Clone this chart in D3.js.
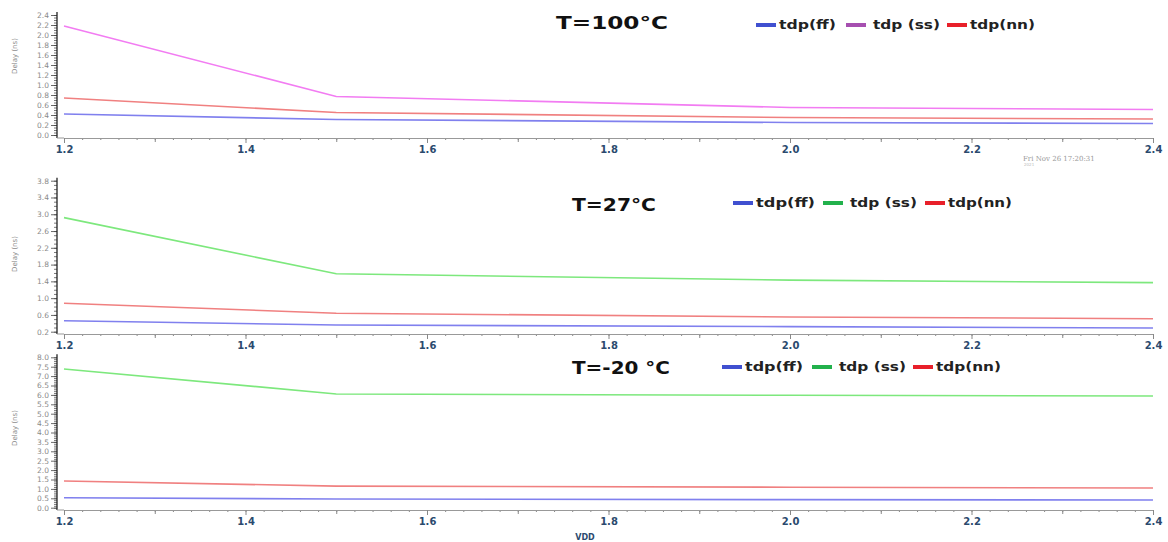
<!DOCTYPE html>
<html>
<head>
<meta charset="utf-8">
<script src="https://cdn.jsdelivr.net/npm/d3@7/dist/d3.min.js"></script>
<style>
  body { margin: 0; background: #fff; }
  svg { display: block; }
  .ylab text { font-family: 'DejaVu Sans', sans-serif; font-size: 7.5px; fill: #8a8a8a; }
  .xlab text { font-family: 'DejaVu Sans', sans-serif; font-weight: bold; font-size: 10px; fill: #2b4a6e; }
</style>
</head>
<body>
<div id="chart"></div>
<script>
/* globals d3 */

// supply voltage (x values)
const vdd = [1.2, 1.5, 2.0, 2.4]

// T = 100 C
const ff100 = [0.42, 0.31, 0.25, 0.23]
const ss100 = [2.18, 0.77, 0.55, 0.51]
const nn100 = [0.74, 0.45, 0.35, 0.32]

// T = 27 C
const ff27 = [0.46, 0.36, 0.32, 0.29]
const ss27 = [2.92, 1.58, 1.43, 1.37]
const nn27 = [0.88, 0.64, 0.55, 0.51]

// T = -20 C
const ffm20 = [0.53, 0.46, 0.43, 0.41]
const ssm20 = [7.38, 6.05, 5.98, 5.94]
const nnm20 = [1.42, 1.15, 1.09, 1.05]

const xTicks = [1.2, 1.4, 1.6, 1.8, 2.0, 2.2, 2.4]
const yTicks100 = [0, 0.2, 0.4, 0.6, 0.8, 1.0, 1.2, 1.4, 1.6, 1.8, 2.0, 2.2, 2.4]
const yTicks27 = [0.2, 0.6, 1.0, 1.4, 1.8, 2.2, 2.6, 3.0, 3.4, 3.8]
const yTicksM20 = [0, 0.5, 1.0, 1.5, 2.0, 2.5, 3.0, 3.5, 4.0, 4.5, 5.0, 5.5, 6.0, 6.5, 7.0, 7.5, 8.0]

const titles = ['T=100°C', 'T=27°C', 'T=-20 °C']
const seriesNames = ['tdp(ff)', 'tdp (ss)', 'tdp(nn)']

const W = 1168
const H = 542

let svg = d3.select('#chart').append('svg').attr('width', W).attr('height', H)

let x = d3.scaleLinear().domain([1.2, 2.4]).range([64, 1153])

let panels = [
  {
    ff: ff100, ss: ss100, nn: nn100, ticks: yTicks100, minor: 0.05, dom: [0, 2.4], rng: [135, 15],
    axisY: 138, ssColor: '#f27cf2', ssKey: '#a64fb0', title: titles[0], yTitle: 56,
    titleX: 556, titleY: 29, titleW: 112, legX: 756, legY: 25, legW: [57, 67, 65], legGap: [90, 101]
  },
  {
    ff: ff27, ss: ss27, nn: nn27, ticks: yTicks27, minor: 0.1, dom: [0.2, 3.8], rng: [331.7, 180.7],
    axisY: 334, ssColor: '#7de87d', ssKey: '#22b14c', title: titles[1], yTitle: 254,
    titleX: 572, titleY: 211, titleW: 84, legX: 733, legY: 203, legW: [59, 67, 64], legGap: [90, 102]
  },
  {
    ff: ffm20, ss: ssm20, nn: nnm20, ticks: yTicksM20, minor: 0.1, dom: [0, 8], rng: [507.7, 357.3],
    axisY: 510, ssColor: '#7de87d', ssKey: '#22b14c', title: titles[2], yTitle: 428,
    titleX: 572, titleY: 374, titleW: 98, legX: 722, legY: 367, legW: [58, 67, 65], legGap: [90, 101]
  }
]

panels.forEach(function (p) {
  let y = d3.scaleLinear().domain(p.dom).range(p.rng)
  let g = svg.append('g')

  // minor y ticks
  let minorVals = d3.range(p.dom[0], p.dom[1] + 1e-9, p.minor)
  g.append('g')
    .attr('transform', 'translate(57,0)')
    .call(d3.axisLeft(y).tickValues(minorVals).tickFormat('').tickSize(3).tickSizeOuter(0))
    .call((a) => a.select('.domain').remove())
    .call((a) => a.selectAll('line').attr('stroke', '#444').attr('stroke-width', 0.7))

  // major y ticks + labels
  g.append('g')
    .attr('class', 'ylab')
    .attr('transform', 'translate(57,0)')
    .call(d3.axisLeft(y).tickValues(p.ticks).tickFormat(d3.format('.1f')).tickSize(6).tickPadding(2).tickSizeOuter(0))
    .call((a) => a.select('.domain').remove())
    .call((a) => a.selectAll('line').attr('stroke', '#444').attr('stroke-width', 0.8))

  // y axis line
  g.append('line')
    .attr('x1', 57).attr('x2', 57)
    .attr('y1', p.rng[1] - 3).attr('y2', p.axisY)
    .attr('stroke', '#222').attr('stroke-width', 1.3)

  // y title
  g.append('text')
    .attr('transform', 'translate(17,' + p.yTitle + ') rotate(-90)')
    .attr('text-anchor', 'middle')
    .attr('font-family', 'DejaVu Sans, sans-serif')
    .attr('font-size', 7)
    .attr('fill', '#8a8a8a')
    .text('Delay (ns)')

  // x axis: small, medium, major ticks
  let xSmall = d3.range(1.2, 2.4 + 1e-9, 0.02)
  let xMid = d3.range(1.3, 2.4, 0.2)
  g.append('g')
    .attr('transform', 'translate(0,' + p.axisY + ')')
    .call(d3.axisBottom(x).tickValues(xSmall).tickFormat('').tickSize(2).tickSizeOuter(0))
    .call((a) => a.select('.domain').remove())
    .call((a) => a.selectAll('line').attr('stroke', '#888'))
  g.append('g')
    .attr('transform', 'translate(0,' + p.axisY + ')')
    .call(d3.axisBottom(x).tickValues(xMid).tickFormat('').tickSize(4).tickSizeOuter(0))
    .call((a) => a.select('.domain').remove())
    .call((a) => a.selectAll('line').attr('stroke', '#888'))
  g.append('g')
    .attr('class', 'xlab')
    .attr('transform', 'translate(0,' + p.axisY + ')')
    .call(d3.axisBottom(x).tickValues(xTicks).tickFormat(d3.format('.1f')).tickSize(5).tickPadding(3).tickSizeOuter(0))
    .call((a) => a.select('.domain').attr('stroke', '#999'))
    .call((a) => a.selectAll('line').attr('stroke', '#888'))

  g.append('line')
    .attr('x1', 57).attr('x2', 64)
    .attr('y1', p.axisY).attr('y2', p.axisY)
    .attr('stroke', '#999')

  // series lines
  let line = d3.line().x((d, i) => x(vdd[i])).y((d) => y(d))
  let series = [[p.ss, p.ssColor], [p.nn, '#f08080'], [p.ff, '#8080ee']]
  series.forEach(function (s) {
    g.append('path')
      .datum(s[0])
      .attr('d', line)
      .attr('fill', 'none')
      .attr('stroke', s[1])
      .attr('stroke-width', 1.6)
  })

  // title
  g.append('text')
    .attr('x', p.titleX).attr('y', p.titleY)
    .attr('font-family', 'DejaVu Sans, sans-serif')
    .attr('font-weight', 'bold')
    .attr('font-size', 17)
    .attr('textLength', p.titleW)
    .attr('lengthAdjust', 'spacingAndGlyphs')
    .attr('fill', '#111')
    .text(p.title)

  // legend
  let keyColors = ['#4050d0', p.ssKey, '#e8202a']
  let lx = p.legX
  seriesNames.forEach(function (name, i) {
    g.append('rect')
      .attr('x', lx).attr('y', p.legY - 2)
      .attr('width', 20).attr('height', 4)
      .attr('fill', keyColors[i])
    g.append('text')
      .attr('x', lx + (i === 1 ? 27 : 23)).attr('y', p.legY + 4)
      .attr('font-family', 'DejaVu Sans, sans-serif')
      .attr('font-weight', 'bold')
      .attr('font-size', 12.5)
      .attr('textLength', p.legW[i])
      .attr('lengthAdjust', 'spacingAndGlyphs')
      .attr('fill', '#222')
      .text(name)
    if (i < 2) lx += p.legGap[i]
  })
})

// x axis title
svg.append('text')
  .attr('x', 585).attr('y', 540)
  .attr('text-anchor', 'middle')
  .attr('font-family', 'DejaVu Sans, sans-serif')
  .attr('font-weight', 'bold')
  .attr('font-size', 8)
  .attr('fill', '#2b4a6e')
  .text('VDD')

// timestamp
svg.append('text')
  .attr('x', 1023).attr('y', 161)
  .attr('font-family', 'DejaVu Serif, serif')
  .attr('font-size', 7)
  .attr('fill', '#999')
  .text('Fri Nov 26 17:20:31')
svg.append('text')
  .attr('x', 1024).attr('y', 166)
  .attr('font-family', 'DejaVu Sans, sans-serif')
  .attr('font-size', 4)
  .attr('fill', '#bbb')
  .text('2021')
</script>
</body>
</html>
